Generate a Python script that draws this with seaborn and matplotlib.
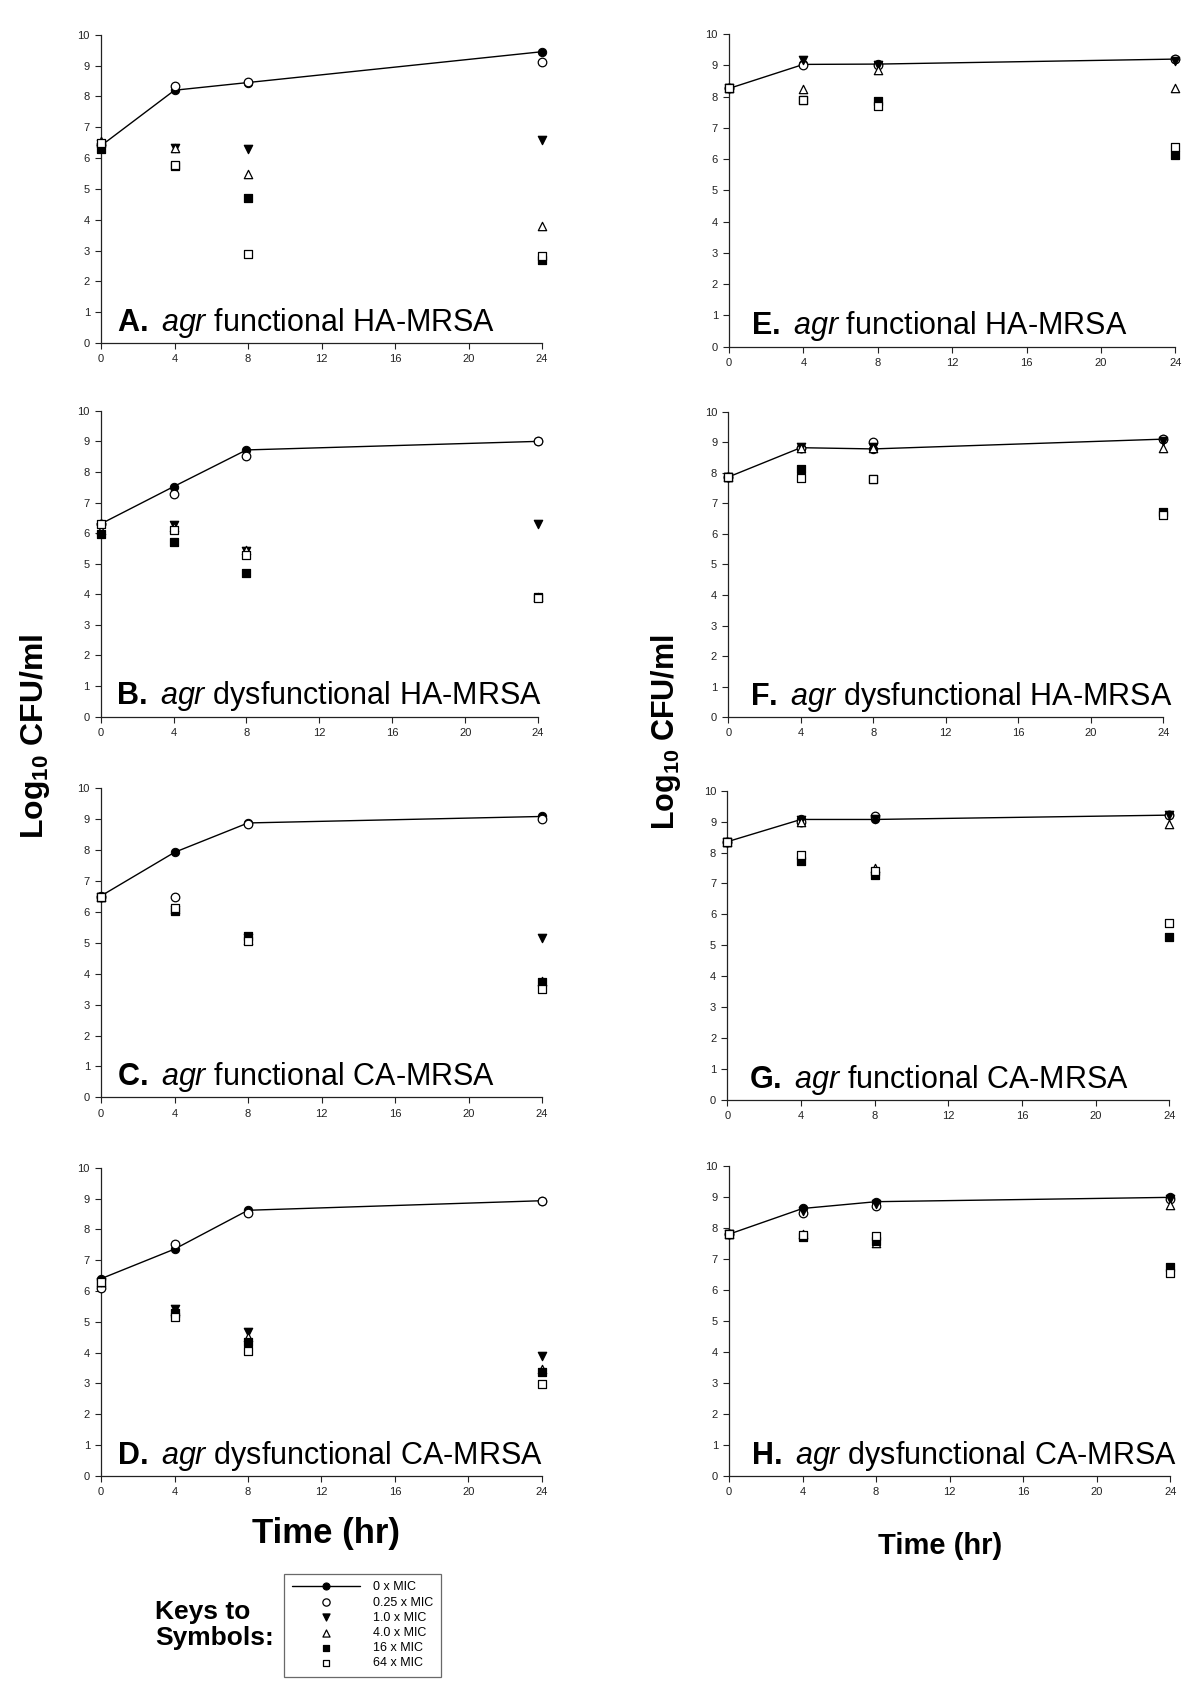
import matplotlib
matplotlib.use("Agg")
import matplotlib.pyplot as plt
import seaborn as sns

sns.set_style("ticks")
plt.rcParams["font.family"] = ["Liberation Sans", "DejaVu Sans"]
plt.rcParams["text.color"] = "black"
plt.rcParams["mathtext.fontset"] = "custom"
plt.rcParams["mathtext.rm"] = "Liberation Sans"
plt.rcParams["mathtext.it"] = "Liberation Sans:italic"
plt.rcParams["mathtext.bf"] = "Liberation Sans:bold"

# sampling times (hr)
times = [0, 4, 8, 24]
mic_labels = ["0 x MIC", "0.25 x MIC", "1.0 x MIC", "4.0 x MIC", "16 x MIC", "64 x MIC"]

# log10 CFU/ml, one row per MIC level (same order as mic_labels)
panel_a = [[6.40, 8.20, 8.45, 9.45],
           [6.45, 8.33, 8.48, 9.10],
           [6.45, 6.32, 6.28, 6.60],
           [6.55, 6.32, 5.48, 3.80],
           [6.30, 5.75, 4.70, 2.70],
           [6.48, 5.77, 2.88, 2.82]]
panel_b = [[6.30, 7.52, 8.72, 9.00],
           [6.30, 7.28, 8.53, 9.00],
           [6.20, 6.26, 5.40, 6.29],
           [6.10, 6.20, 5.45, 3.90],
           [5.97, 5.70, 4.68, 3.90],
           [6.29, 6.11, 5.28, 3.88]]
panel_c = [[6.52, 7.93, 8.88, 9.09],
           [6.50, 6.49, 8.85, 9.00],
           [6.50, 6.05, 5.15, 5.15],
           [6.50, 6.10, 5.10, 3.75],
           [6.50, 6.02, 5.23, 3.74],
           [6.50, 6.14, 5.07, 3.52]]
panel_d = [[6.40, 7.36, 8.62, 8.93],
           [6.11, 7.54, 8.54, 8.93],
           [6.30, 5.42, 4.68, 3.90],
           [6.30, 5.35, 4.52, 3.47],
           [6.30, 5.30, 4.36, 3.38],
           [6.28, 5.15, 4.06, 2.97]]
panel_e = [[8.26, 9.03, 9.04, 9.20],
           [8.26, 9.00, 9.00, 9.20],
           [8.26, 9.17, 9.00, 9.15],
           [8.26, 8.23, 8.85, 8.26],
           [8.26, 7.90, 7.87, 6.13],
           [8.26, 7.90, 7.70, 6.40]]
panel_f = [[7.86, 8.82, 8.78, 9.10],
           [7.86, 8.80, 9.00, 9.10],
           [7.86, 8.85, 8.85, 9.05],
           [7.86, 8.80, 8.80, 8.80],
           [7.86, 8.12, 7.80, 6.71],
           [7.86, 7.83, 7.80, 6.61]]
panel_g = [[8.35, 9.07, 9.07, 9.21],
           [8.35, 8.98, 9.18, 9.20],
           [8.35, 9.05, 9.10, 9.20],
           [8.35, 9.00, 7.50, 8.92],
           [8.35, 7.74, 7.26, 5.26],
           [8.35, 7.93, 7.41, 5.71]]
panel_h = [[7.81, 8.64, 8.86, 9.00],
           [7.81, 8.48, 8.73, 8.95],
           [7.81, 8.55, 8.80, 8.95],
           [7.81, 7.80, 7.53, 8.75],
           [7.81, 7.73, 7.59, 6.76],
           [7.81, 7.78, 7.76, 6.57]]

panel_titles = [
    r"$\mathbf{A.}\ \mathit{agr}$ functional HA-MRSA",
    r"$\mathbf{B.}\ \mathit{agr}$ dysfunctional HA-MRSA",
    r"$\mathbf{C.}\ \mathit{agr}$ functional CA-MRSA",
    r"$\mathbf{D.}\ \mathit{agr}$ dysfunctional CA-MRSA",
    r"$\mathbf{E.}\ \mathit{agr}$ functional HA-MRSA",
    r"$\mathbf{F.}\ \mathit{agr}$ dysfunctional HA-MRSA",
    r"$\mathbf{G.}\ \mathit{agr}$ functional CA-MRSA",
    r"$\mathbf{H.}\ \mathit{agr}$ dysfunctional CA-MRSA",
]
panels = [panel_a, panel_b, panel_c, panel_d, panel_e, panel_f, panel_g, panel_h]

# axes rectangles in figure fractions (left column A-D, right column E-H)
rects = [
    [0.0842, 0.7967, 0.3675, 0.1827],
    [0.0839, 0.5752, 0.3645, 0.1813],
    [0.0842, 0.3495, 0.3675, 0.1832],
    [0.0842, 0.1251, 0.3673, 0.1827],
    [0.6075, 0.7945, 0.3720, 0.1853],
    [0.6069, 0.5748, 0.3625, 0.1812],
    [0.6061, 0.3480, 0.3683, 0.1833],
    [0.6075, 0.1251, 0.3678, 0.1835],
]

markers = ["o", "o", "v", "^", "s", "s"]
faces = ["black", "white", "black", "white", "black", "white"]
sizes = [36, 38, 36, 36, 30, 30]

fig = plt.figure(figsize=(12, 16.87), dpi=100)
handles, labels = None, None

for i, (vals, title, rect) in enumerate(zip(panels, panel_titles, rects)):
    ax = fig.add_axes(rect)
    # untreated control: connected line
    sns.lineplot(x=times, y=vals[0], color="black", linewidth=1, marker="o",
                 markersize=6, markeredgecolor="black", clip_on=False,
                 label=mic_labels[0], legend=False, ax=ax, zorder=3)
    for j in range(1, 6):
        sns.scatterplot(x=times, y=vals[j], marker=markers[j], color=faces[j],
                        edgecolor="black", linewidth=0.9, s=sizes[j],
                        clip_on=False, label=mic_labels[j], legend=False,
                        ax=ax, zorder=3 + j)
    if handles is None:
        handles, labels = ax.get_legend_handles_labels()
    if ax.get_legend() is not None:
        ax.get_legend().remove()

    ax.set_xlim(0, 24)
    ax.set_ylim(0, 10)
    ax.set_xticks([0, 4, 8, 12, 16, 20, 24])
    ax.set_yticks(range(11))
    ax.tick_params(direction="out", length=4, width=0.8, labelsize=8,
                   pad=4, colors="#222222")
    for side in ["left", "bottom"]:
        ax.spines[side].set_color("#222222")
        ax.spines[side].set_linewidth(0.9)
    sns.despine(ax=ax)
    ax.set_xlabel("")
    ax.set_ylabel("")

    tx = 0.85 if i < 4 else 1.2
    ax.text(tx, 0.4, title, fontsize=22, ha="left", va="baseline")

# shared axis labels
ylab = r"$\mathbf{Log}_{\mathbf{10}}$ CFU/ml"
fig.text(35 / 1200, 1 - 736 / 1687, ylab, rotation=90, fontsize=23,
         fontweight="bold", ha="center", va="center")
fig.text(666 / 1200, 1 - 732 / 1687, ylab, rotation=90, fontsize=22,
         fontweight="bold", ha="center", va="center")
fig.text(326 / 1200, 1 - 1533 / 1687, "Time (hr)", fontsize=25,
         fontweight="bold", ha="center", va="center")
fig.text(940 / 1200, 1 - 1546 / 1687, "Time (hr)", fontsize=21,
         fontweight="bold", ha="center", va="center")

# key to symbols
fig.text(155 / 1200, 1 - 1625 / 1687, "Keys to\nSymbols:", fontsize=19,
         fontweight="bold", ha="left", va="center", linespacing=1.1)
leg = fig.legend(handles, labels, loc="upper left",
                 bbox_to_anchor=(284 / 1200, 1 - 1574 / 1687),
                 frameon=True, fancybox=False, edgecolor="#444444",
                 fontsize=9, handlelength=5.5, handletextpad=1.0,
                 labelspacing=0.25, borderpad=0.6, borderaxespad=0,
                 markerscale=0.85)
leg.get_frame().set_linewidth(0.9)

fig.savefig("out.png", dpi=100)
plt.close(fig)
